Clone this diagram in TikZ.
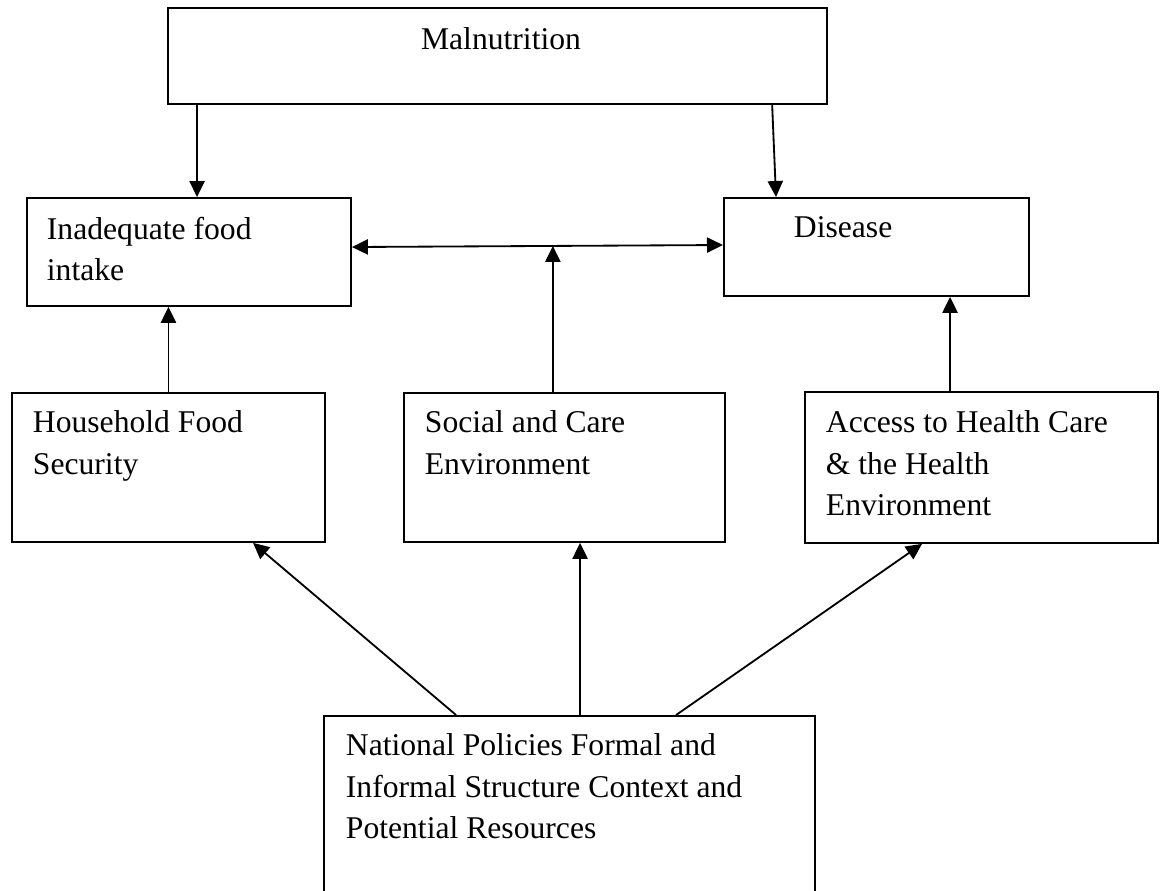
\documentclass[tikz,border=0pt]{standalone}
\usepackage{fontspec}
\setmainfont{Liberation Serif}
\usetikzlibrary{arrows.meta,positioning}

\begin{document}
\begin{tikzpicture}
          [x=0.025cm,y=-0.025cm,line width=1.3pt,
           >={Triangle[length=4mm,width=3.8mm]}]
          \tikzstyle{box}=[draw=black,inner sep=0pt,anchor=north west]
          \tikzstyle{txt}=[inner sep=0pt,anchor=north west,align=left,font=\fontsize{22.5}{29.5}\selectfont]

          \useasboundingbox (0,0) rectangle (1160,890);

          % boxes
          \node[box,minimum width=16.475cm,minimum height=2.4cm] (mal) at (167,7) {};
          \node[box,minimum width=8.1cm,minimum height=2.7cm] (food) at (26,197) {};
          \node[box,minimum width=7.625cm,minimum height=2.45cm] (dis) at (723,197) {};
          \node[box,minimum width=7.825cm,minimum height=3.725cm] (hfs) at (11,392) {};
          \node[box,minimum width=8.025cm,minimum height=3.725cm] (soc) at (403,392) {};
          \node[box,minimum width=8.825cm,minimum height=3.775cm] (acc) at (804,391) {};
          \node[box,minimum width=12.275cm,minimum height=4.55cm] (nat) at (323,715) {};

          % texts
          \node[txt,anchor=base] (mal-t) at (501,49) {Malnutrition};
          \node[txt] (food-t) at (46,216) {Inadequate food\\intake};
          \node[txt] (dis-t) at (793,216) {Disease};
          \node[txt] (hfs-t) at (32,410) {Household Food\\Security};
          \node[txt] (soc-t) at (424,410) {Social and Care\\Environment};
          \node[txt] (acc-t) at (825,410) {Access to Health Care\\\& the Health\\Environment};
          \node[txt] (nat-t) at (345,733)
            {National Policies Formal and\\Informal Structure Context and\\Potential Resources};

          % arrows
          \draw[->] ([xshift=0.75cm]mal.south west) -- ([xshift=4.275cm]food.north west);
          \draw[->] ([xshift=15.125cm]mal.south west) -- ([xshift=1.325cm]dis.north west);
          \draw[<->] ([yshift=-1.25cm]food.north east) -- coordinate[pos=0.5416] (mid)
            ([yshift=-1.2cm]dis.north west);
          \path ([xshift=5.675cm]dis.south west) coordinate (d1);

          \path[->]
          (hfs.north) edge (hfs.north |- food.south)
          (soc.north -| mid) edge (mid)
          (acc.north -| d1) edge (d1)
          ([xshift=3.325cm]nat.north west) edge ([xshift=6.05cm]hfs.south west)
          ([xshift=6.425cm]nat.north west) edge ([xshift=6.425cm]nat.north west |- soc.south)
          ([xshift=8.825cm]nat.north west) edge ([xshift=2.95cm]acc.south west)
          ;
        \end{tikzpicture}
\end{document}
